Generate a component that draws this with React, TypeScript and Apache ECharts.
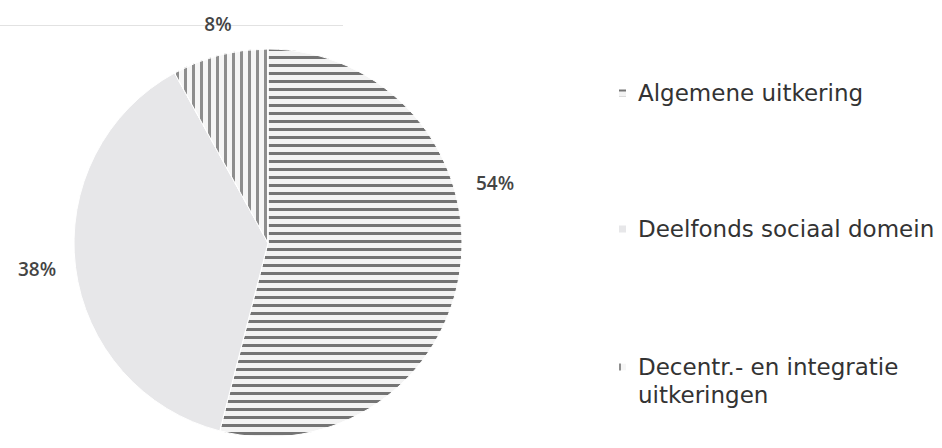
import React, { useEffect, useRef } from 'react';
import * as echarts from 'echarts';

const categories = ['Algemene uitkering', 'Deelfonds sociaal domein', 'Decentr.- en integratie uitkeringen'];
const shares = [54, 38, 8];
const sliceColors = ['#f3f3f3', '#e7e7e9', '#f6f6f6'];

// label anchor positions (layout only)
const labelAnchors = [
  [495, 183],
  [37, 269],
  [218, 24],
];

const stripeDecals: any[] = [
  { symbol: 'rect', symbolSize: 1, dashArrayX: [1, 0], dashArrayY: [3, 5], color: '#747474', rotation: 0 },
  null,
  { symbol: 'rect', symbolSize: 1, dashArrayX: [3, 5], dashArrayY: [1, 0], color: '#8e8e8e', rotation: 0 },
];

export default function App() {
  const ref = useRef<HTMLDivElement>(null);
  useEffect(() => {
    if (!ref.current) return;
    const chart = echarts.init(ref.current, undefined, { renderer: 'svg' });
    const legendTops = [79, 215, 325];
    const legends = categories.map((c, i) => ({
      orient: 'vertical',
      left: 617,
      top: legendTops[i],
      padding: 0,
      icon: 'rect',
      itemWidth: 9,
      itemHeight: 9,
      selectedMode: false,
      data: [c],
      formatter: (name: string) =>
        i === 2 ? '\u00a0\n' + name.replace(' uitkeringen', '\nuitkeringen') : name,
      textStyle: {
        fontFamily: 'DejaVu Sans',
        fontSize: 23,
        lineHeight: 28,
        color: '#333333',
        padding: [0, 0, 0, 6],
      },
    }));
    chart.setOption({
      animation: false,
      backgroundColor: '#ffffff',
      legend: legends,
      graphic: [
        {
          type: 'line',
          z: -1,
          shape: { x1: 0, y1: 25.5, x2: 343, y2: 25.5 },
          style: { stroke: '#e2e2e2', lineWidth: 1 },
        },
      ],
      series: [
        {
          type: 'pie',
          center: [268, 243],
          radius: 194,
          startAngle: 90,
          clockwise: true,
          avoidLabelOverlap: false,
          itemStyle: { borderColor: '#ffffff', borderWidth: 1 },
          label: {
            show: true,
            position: 'outside',
            formatter: '{c}%',
            fontFamily: 'Open Sans',
            fontWeight: 600,
            fontSize: 19,
            color: '#444444',
          },
          labelLine: { show: false },
          labelLayout: (params: any) => ({
            x: labelAnchors[params.dataIndex][0],
            y: labelAnchors[params.dataIndex][1],
            align: 'center',
            verticalAlign: 'middle',
          }),
          emphasis: { disabled: true },
          data: categories.map((c, i) => ({
            name: c,
            value: shares[i],
            itemStyle: stripeDecals[i]
              ? { color: sliceColors[i], decal: stripeDecals[i] }
              : { color: sliceColors[i] },
          })),
        },
      ],
    });
    return () => chart.dispose();
  }, []);
  return (
    <div
      ref={ref}
      style={{ position: 'fixed', left: 0, top: 0, width: 942, height: 448 }}
    />
  );
}
